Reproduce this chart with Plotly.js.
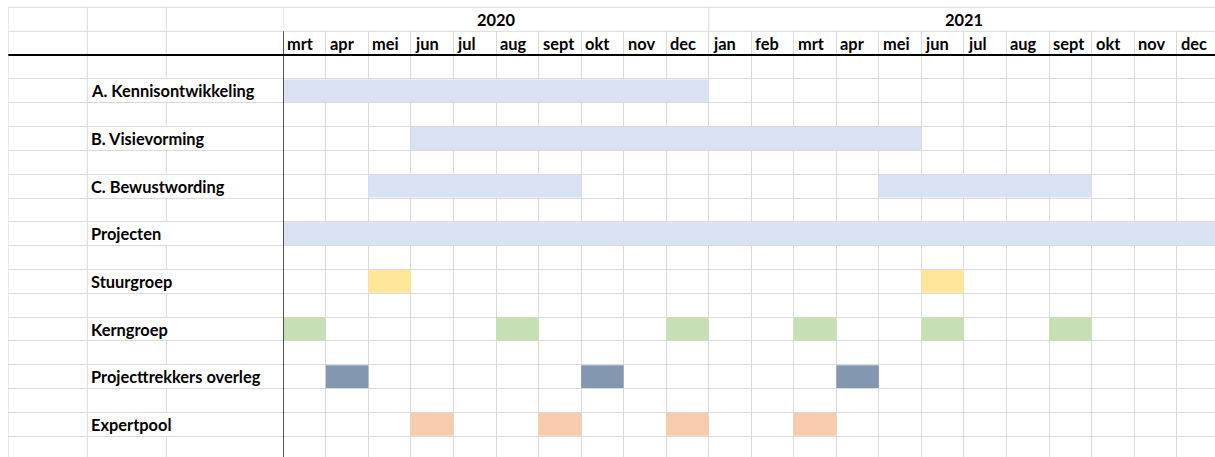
<!DOCTYPE html>
<html>
<head>
<meta charset="utf-8">
<script src="https://cdn.plot.ly/plotly-3.0.1.min.js"></script>
<style>
html,body{margin:0;padding:0;background:#fff;}
#chart{width:1215px;height:457px;}
</style>
</head>
<body>
<div id="chart"></div>
<script>
// ---------- DATA ----------
const months = ['mrt','apr','mei','jun','jul','aug','sept','okt','nov','dec',
                'jan','feb','mrt','apr','mei','jun','jul','aug','sept','okt','nov','dec'];
const firstMonth = '2020-03';
const years = ['2020','2021'];
const yearFrom = ['2020-03','2021-01'];
const yearTo = ['2020-12','2021-12'];
const tasks = ['A. Kennisontwikkeling','B. Visievorming','C. Bewustwording','Projecten',
               'Stuurgroep','Kerngroep','Projecttrekkers overleg','Expertpool'];
const periodsA = [['2020-03','2020-12']];
const periodsB = [['2020-06','2021-05']];
const periodsC = [['2020-05','2020-09'],['2021-05','2021-09']];
const periodsProjecten = [['2020-03','2021-12']];
const periodsStuurgroep = [['2020-05','2020-05'],['2021-06','2021-06']];
const periodsKerngroep = [['2020-03','2020-03'],['2020-08','2020-08'],['2020-12','2020-12'],
                          ['2021-03','2021-03'],['2021-06','2021-06'],['2021-09','2021-09']];
const periodsTrekkers = [['2020-04','2020-04'],['2020-10','2020-10'],['2021-04','2021-04']];
const periodsExpertpool = [['2020-06','2020-06'],['2020-09','2020-09'],['2020-12','2020-12'],['2021-03','2021-03']];
const taskPeriods = [periodsA, periodsB, periodsC, periodsProjecten,
                     periodsStuurgroep, periodsKerngroep, periodsTrekkers, periodsExpertpool];

// ---------- STYLE ----------
const taskColors = ['#D9E1F2','#D9E1F2','#D9E1F2','#D9E1F2','#FFE699','#C6E0B4','#8497B0','#F8CBAD'];
const W = 1215, H = 457;
const colEdges = [8.3, 87.3, 166.3, 283.3];   // spreadsheet column borders (px)
const monthW = 42.54, rowH = 23.82, topY = 7.3, headY = 31.3;
const gridC = '#d9d9d9';
const FONT = 'Lato, "Open Sans", sans-serif';

function mIdx(s){ const [y,m] = s.split('-').map(Number); const [y0,m0] = firstMonth.split('-').map(Number); return (y-y0)*12 + (m-m0); }

const nRowsVisible = (H - headY) / rowH;          // body rows in y-axis units
const monthSpan = (W - colEdges[3]) / monthW;      // months visible
const labelRow = i => 2 + 2*i;                     // row index of task i

// ---------- TRACES ----------
const traces = tasks.map((t, i) => {
  const per = taskPeriods[i];
  return {
    type: 'bar', orientation: 'h', xaxis: 'x2', yaxis: 'y',
    y: per.map(() => labelRow(i) + 0.5),
    base: per.map(p => mIdx(p[0])),
    x: per.map(p => mIdx(p[1]) + 1 - mIdx(p[0])),
    width: 0.96,
    marker: {color: taskColors[i], line: {width: 0}},
    hoverinfo: 'skip', showlegend: false, name: t
  };
});
// invisible trace to create the label-area subplot
traces.push({type:'scatter', mode:'none', x:[colEdges[1]], y:[1], xaxis:'x', yaxis:'y', hoverinfo:'skip', showlegend:false});

// ---------- ANNOTATIONS ----------
const txtFont = {family: FONT, size: 16.4, color: '#000', weight: 'bold'};
const annotations = [];
months.forEach((m, i) => annotations.push({
  xref:'x2', yref:'y', x:i, y:0.5, xanchor:'left', yanchor:'middle', xshift:2,
  text:m, showarrow:false, font:txtFont
}));
tasks.forEach((t, i) => annotations.push({
  xref:'x', yref:'y', x:colEdges[1], y:labelRow(i)+0.5, xanchor:'left', yanchor:'middle', xshift:2,
  text:t, showarrow:false, font:txtFont
}));
years.forEach((yr, i) => annotations.push({
  xref:'x2', yref:'paper', x:(mIdx(yearFrom[i]) + mIdx(yearTo[i]) + 1)/2, y:1 - ((topY+headY)/2)/H,
  xanchor:'center', yanchor:'middle', text:yr, showarrow:false, font:txtFont
}));

// ---------- GRID SHAPES (spreadsheet borders) ----------
const shapes = [];
const pTop = 1 - topY/H, pHead = 1 - headY/H;
const gl = {color: gridC, width: 1};
shapes.push({type:'line', xref:'paper', yref:'paper', x0:colEdges[0]/W, x1:1, y0:pTop, y1:pTop, line:gl});
shapes.push({type:'line', xref:'paper', yref:'paper', x0:colEdges[0]/W, x1:1, y0:pHead, y1:pHead, line:gl});
[colEdges[0], colEdges[1]].forEach(cx => shapes.push({type:'line', xref:'x', yref:'paper', x0:cx, x1:cx, y0:0, y1:pTop, line:gl}));
shapes.push({type:'line', xref:'x', yref:'paper', x0:colEdges[2], x1:colEdges[2], y0:pHead, y1:pTop, line:gl});
for (let k = 0; k < Math.ceil(nRowsVisible); k++) {
  if (k >= 2 && k <= labelRow(tasks.length-1) && k % 2 === 0) continue;
  shapes.push({type:'line', xref:'x', yref:'y', x0:colEdges[2], x1:colEdges[2], y0:k, y1:Math.min(k+1, nRowsVisible), line:gl});
}
shapes.push({type:'line', xref:'x2', yref:'paper', x0:0, x1:0, y0:pHead, y1:pTop, line:gl});
shapes.push({type:'line', xref:'x2', yref:'paper', x0:mIdx(yearFrom[1]), x1:mIdx(yearFrom[1]), y0:pHead, y1:pTop, line:gl});
shapes.push({type:'line', xref:'paper', yref:'y', x0:colEdges[0]/W, x1:1, y0:1, y1:1, line:{color:'#000', width:2}});
shapes.push({type:'line', xref:'x2', yref:'paper', x0:0, x1:0, y0:0, y1:pHead, line:{color:'#000', width:1.3}});

// ---------- LAYOUT ----------
const layout = {
  width: W, height: H,
  margin: {l:0, r:0, t:0, b:0, pad:0},
  paper_bgcolor: '#fff', plot_bgcolor: '#fff',
  barmode: 'overlay', showlegend: false,
  xaxis: {domain:[colEdges[0]/W, colEdges[3]/W], range:[colEdges[0], colEdges[3]], anchor:'y',
          showgrid:false, zeroline:false, showticklabels:false, ticks:'', fixedrange:true},
  xaxis2: {domain:[colEdges[3]/W, 1], range:[0, monthSpan], anchor:'y',
           showgrid:true, gridcolor:gridC, gridwidth:1, tick0:0, dtick:1,
           zeroline:false, showticklabels:false, ticks:'', fixedrange:true},
  yaxis: {domain:[0, pHead], range:[nRowsVisible, 0], anchor:'x',
          showgrid:true, gridcolor:gridC, gridwidth:1, tick0:0, dtick:1,
          zeroline:false, showticklabels:false, ticks:'', fixedrange:true},
  annotations: annotations,
  shapes: shapes,
  font: {family: FONT}
};

Plotly.newPlot('chart', traces, layout, {staticPlot:true, displayModeBar:false});
</script>
</body>
</html>
